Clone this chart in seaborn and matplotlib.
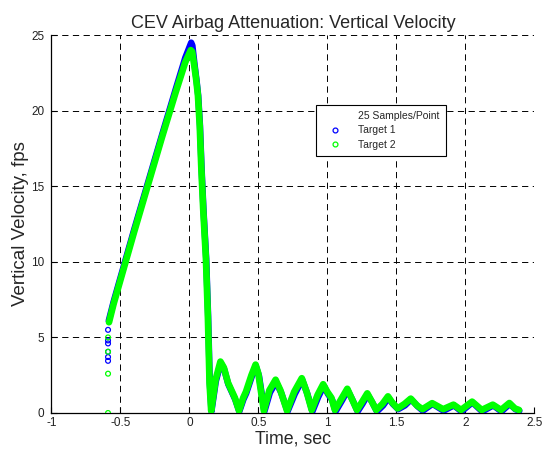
import numpy as np
import pandas as pd
import matplotlib
matplotlib.use("Agg")
import matplotlib.pyplot as plt
import seaborn as sns
from matplotlib.lines import Line2D

# ---------------- data ----------------
t_target2 = [-0.583, -0.55, -0.50, -0.45, -0.40, -0.30, -0.20, -0.10, -0.03, 0.01,
             0.02, 0.035, 0.05, 0.062, 0.075, 0.086, 0.10, 0.12, 0.134, 0.146, 0.158,
             0.19, 0.225, 0.25, 0.28, 0.30, 0.33, 0.36, 0.39, 0.41, 0.45, 0.48, 0.50,
             0.54, 0.58, 0.625, 0.66, 0.708, 0.76, 0.815, 0.85, 0.887, 0.93, 0.97,
             1.0, 1.03, 1.055, 1.10, 1.145, 1.18, 1.215, 1.25, 1.29, 1.32, 1.355,
             1.40, 1.44, 1.47, 1.51, 1.56, 1.605, 1.65, 1.69, 1.76, 1.84, 1.915,
             1.97, 2.05, 2.12, 2.20, 2.26, 2.32, 2.36, 2.39]
v_target2 = [6.0, 7.2, 8.8, 10.4, 12.0, 15.1, 18.2, 21.2, 23.2, 24.0,
             23.9, 23.0, 22.0, 21.0, 19.0, 16.3, 13.5, 10.2, 6.4, 2.0, 0.15,
             2.2, 3.4, 3.0, 2.0, 1.6, 1.0, 0.15, 1.0, 1.4, 2.5, 3.2, 2.6,
             0.15, 1.5, 2.2, 1.5, 0.15, 1.4, 2.3, 1.4, 0.2, 1.2, 1.9,
             1.4, 1.0, 0.2, 0.9, 1.6, 0.9, 0.2, 0.7, 1.3, 0.8, 0.2,
             0.6, 1.1, 0.7, 0.3, 0.6, 0.95, 0.5, 0.25, 0.65, 0.25, 0.55,
             0.2, 0.75, 0.2, 0.55, 0.2, 0.66, 0.3, 0.2]

t_target1 = [-0.585, -0.55, -0.50, -0.45, -0.40, -0.30, -0.20, -0.10, -0.03, 0.013,
             0.022, 0.037, 0.052, 0.064, 0.077, 0.088, 0.102, 0.122, 0.136, 0.148, 0.16,
             0.192, 0.227, 0.252, 0.282, 0.302, 0.332, 0.362, 0.392, 0.412, 0.452, 0.482, 0.505,
             0.544, 0.584, 0.628, 0.665, 0.712, 0.764, 0.818, 0.856, 0.892, 0.934, 0.974,
             1.005, 1.036, 1.06, 1.105, 1.148, 1.186, 1.22, 1.255, 1.293, 1.326, 1.36,
             1.405, 1.443, 1.475, 1.514, 1.563, 1.608, 1.654, 1.693, 1.763, 1.843, 1.918,
             1.973, 2.052, 2.123, 2.203, 2.263, 2.323, 2.363, 2.393]
v_target1 = [6.1, 7.35, 8.95, 10.55, 12.15, 15.25, 18.35, 21.4, 23.5, 24.5,
             24.3, 23.1, 22.0, 21.0, 19.0, 16.3, 13.5, 10.2, 6.4, 2.0, 0.1,
             2.1, 3.3, 2.9, 1.9, 1.5, 0.9, 0.1, 0.9, 1.3, 2.4, 3.1, 2.45,
             0.1, 1.35, 2.05, 1.35, 0.1, 1.25, 2.2, 1.25, 0.1, 1.05, 1.8,
             1.25, 0.85, 0.1, 0.8, 1.5, 0.8, 0.1, 0.6, 1.2, 0.7, 0.1,
             0.5, 1.0, 0.6, 0.25, 0.5, 0.9, 0.45, 0.15, 0.6, 0.15, 0.5,
             0.1, 0.7, 0.1, 0.5, 0.1, 0.6, 0.25, 0.15]

# isolated samples at the start of the trace
t_start1 = [-0.59, -0.59, -0.59, -0.59, -0.59, -0.59]
v_start1 = [5.5, 4.8, 4.6, 4.05, 3.7, 3.45]
t_start2 = [-0.59, -0.59, -0.59, -0.59]
v_start2 = [5.0, 4.05, 2.6, 0.0]

x_ticks = [-1, -0.5, 0, 0.5, 1, 1.5, 2, 2.5]
x_ticklabels = ["-1", "-0.5", "0", "0.5", "1", "1.5", "2", "2.5"]
y_ticks = [0, 5, 10, 15, 20, 25]
y_ticklabels = ["0", "5", "10", "15", "20", "25"]

BLUE = (0, 0, 1)
GREEN = (0, 1, 0)

# ---------------- figure ----------------
sns.set_theme(style="white")
plt.rcParams['font.family'] = ['Liberation Sans', 'DejaVu Sans']
plt.rcParams['lines.scale_dashes'] = False

fig = plt.figure(figsize=(5.46, 4.49), dpi=100)
ax = fig.add_axes([0.0943, 0.0802, 0.884, 0.8418])

df1 = pd.DataFrame({"t": t_target1, "v": v_target1})
df2 = pd.DataFrame({"t": t_target2, "v": v_target2})
sns.lineplot(data=df1, x="t", y="v", ax=ax, color=BLUE, lw=4.6, sort=False,
             solid_joinstyle="round", solid_capstyle="round", zorder=3)
sns.lineplot(data=df2, x="t", y="v", ax=ax, color=GREEN, lw=4.8, sort=False,
             solid_joinstyle="round", solid_capstyle="round", zorder=4)
sns.scatterplot(x=t_start1, y=v_start1, ax=ax, marker="o", s=12,
                facecolors="none", edgecolor=BLUE, linewidth=0.9, zorder=3)
sns.scatterplot(x=t_start2, y=v_start2, ax=ax, marker="o", s=12,
                facecolors="none", edgecolor=GREEN, linewidth=0.9, zorder=4)

ax.set_xlim(-1, 2.5)
ax.set_ylim(0, 25)
ax.set_xticks(x_ticks)
ax.set_xticklabels(x_ticklabels)
ax.set_yticks(y_ticks)
ax.set_yticklabels(y_ticklabels)

ax.grid(True, color="black", linestyle=(0, (4.5, 3.2)), linewidth=0.7, zorder=1)
ax.set_axisbelow(True)
for s in ["top", "right"]:
    ax.spines[s].set_visible(False)
for s in ["left", "bottom"]:
    ax.spines[s].set_visible(True)
    ax.spines[s].set_color("black")
    ax.spines[s].set_linewidth(0.9)

ax.tick_params(axis="both", direction="in", length=4, width=0.8, colors="black",
               labelsize=8.5, left=True, bottom=True)
ax.tick_params(axis="x", pad=3)
ax.tick_params(axis="y", pad=5)
for lab in ax.get_xticklabels() + ax.get_yticklabels():
    lab.set_color("#222222")

ax.set_title("CEV Airbag Attenuation: Vertical Velocity", fontsize=13, pad=5)
ax.set_xlabel("Time, sec", fontsize=12.8, labelpad=1)
ax.set_ylabel("Vertical Velocity, fps", fontsize=13.5, labelpad=2)

handles = [
    Line2D([], [], linestyle="none", marker=None),
    Line2D([], [], linestyle="none", marker="o", markersize=3.5,
           markerfacecolor="none", markeredgecolor=BLUE, markeredgewidth=0.9),
    Line2D([], [], linestyle="none", marker="o", markersize=3.5,
           markerfacecolor="none", markeredgecolor=GREEN, markeredgewidth=0.9),
]
leg = ax.legend(handles, ["25 Samples/Point", "Target 1", "Target 2"],
                loc="upper left", bbox_to_anchor=(0.547, 0.815),
                fontsize=7.5, frameon=True, fancybox=False, framealpha=1,
                edgecolor="black", borderpad=0.6, labelspacing=0.4,
                handlelength=2.6, handletextpad=0.9, borderaxespad=0)
leg.get_frame().set_linewidth(0.8)
leg.set_zorder(10)

fig.savefig("out.png", dpi=100)
